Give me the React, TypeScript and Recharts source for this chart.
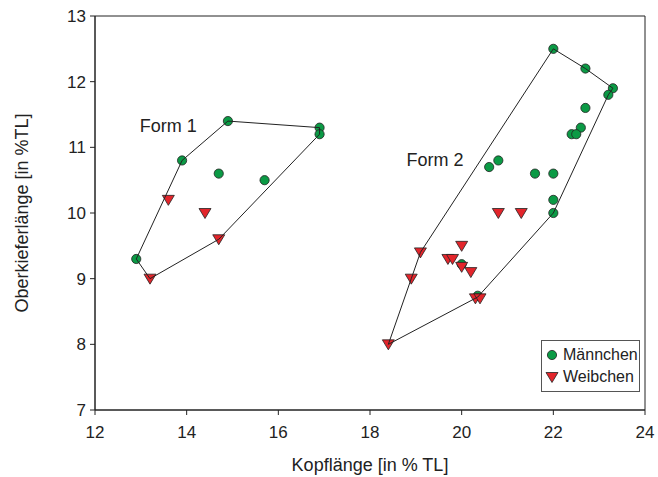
import {
  ScatterChart,
  Scatter,
  XAxis,
  YAxis,
  ReferenceArea,
  ReferenceDot,
} from 'recharts'

// Männchen (circles)
const maleKopf = [12.9, 13.9, 14.9, 16.9, 16.9, 14.7, 15.7, 22.0, 22.7, 23.3, 23.2, 22.7, 22.6, 22.4, 22.5, 20.8, 20.6, 21.6, 22.0, 22.0, 22.0, 20.0, 20.35]
const maleOber = [9.3, 10.8, 11.4, 11.3, 11.2, 10.6, 10.5, 12.5, 12.2, 11.9, 11.8, 11.6, 11.3, 11.2, 11.2, 10.8, 10.7, 10.6, 10.6, 10.2, 10.0, 9.22, 8.74]

// Weibchen (triangles)
const femaleKopf = [13.6, 14.4, 14.7, 13.2, 20.8, 21.3, 19.1, 18.9, 18.4, 20.3, 20.4, 20.0, 19.7, 19.8, 20.0, 20.2]
const femaleOber = [10.2, 10.0, 9.6, 9.0, 10.0, 10.0, 9.4, 9.0, 8.0, 8.7, 8.7, 9.5, 9.3, 9.3, 9.18, 9.1]

// hull outlines
const hull1Kopf = [12.9, 13.2, 14.7, 16.9, 16.9, 14.9, 13.9, 12.9]
const hull1Ober = [9.3, 9.0, 9.6, 11.2, 11.3, 11.4, 10.8, 9.3]
const hull2Kopf = [18.4, 18.9, 19.1, 22.0, 22.7, 23.3, 23.2, 22.0, 20.35, 18.4]
const hull2Ober = [8.0, 9.0, 9.4, 12.5, 12.2, 11.9, 11.8, 10.0, 8.72, 8.0]

const xTicks = [12, 14, 16, 18, 20, 22, 24]
const yTicks = [7, 8, 9, 10, 11, 12, 13]

const zip = (xs: number[], ys: number[]) => xs.map((x, i) => ({ x, y: ys[i] }))

const males = zip(maleKopf, maleOber)
const females = zip(femaleKopf, femaleOber)
const hull1 = zip(hull1Kopf, hull1Ober)
const hull2 = zip(hull2Kopf, hull2Ober)

const GREEN = '#0b9a45'
const RED = '#e3252b'
const INK = '#222'
const FONT = "'Liberation Sans', Arial, sans-serif"

const Circle = (p: any) => (
  <circle cx={p.cx} cy={p.cy} r={4.6} fill={GREEN} stroke={INK} strokeWidth={0.8} />
)

const Tri = (p: any) => (
  <path
    d={`M${p.cx - 6},${p.cy - 4.5} L${p.cx + 6},${p.cy - 4.5} L${p.cx},${p.cy + 5.5} Z`}
    fill={RED}
    stroke={INK}
    strokeWidth={0.8}
  />
)

const Nothing = () => <g />

function LegendBox() {
  return (
    <div
      style={{
        position: 'absolute',
        left: 541,
        top: 340,
        width: 99,
        boxSizing: 'border-box',
        border: '1px solid #555',
        background: '#fff',
        padding: '3px 0 3px 3px',
        fontFamily: FONT,
        fontSize: 16,
        color: INK,
        lineHeight: '22px',
      }}
    >
      <div style={{ display: 'flex', alignItems: 'center' }}>
        <svg width={14} height={14} style={{ marginRight: 4 }}>
          <circle cx={7} cy={7} r={4.6} fill={GREEN} stroke={INK} strokeWidth={0.8} />
        </svg>
        Männchen
      </div>
      <div style={{ display: 'flex', alignItems: 'center' }}>
        <svg width={14} height={14} style={{ marginRight: 4 }}>
          <path d="M1,2.5 L13,2.5 L7,12.5 Z" fill={RED} stroke={INK} strokeWidth={0.8} />
        </svg>
        Weibchen
      </div>
    </div>
  )
}

const tickStyle = { fill: INK, fontSize: 17, fontFamily: FONT }

export default function App() {
  return (
    <div style={{ position: 'absolute', left: 0, top: 0, width: 658, height: 477, background: '#fff' }}>
      <ScatterChart
        width={658}
        height={477}
        margin={{ top: 16, right: 13, bottom: 0, left: 0 }}
        style={{ fontFamily: FONT }}
      >
        <XAxis
          type="number"
          dataKey="x"
          domain={[12, 24]}
          ticks={xTicks}
          tick={tickStyle}
          tickSize={5}
          tickMargin={11}
          stroke={INK}
          height={67}
          allowDataOverflow
          label={{ value: 'Kopflänge [in % TL]', position: 'insideBottom', offset: 6, fill: INK, fontSize: 18, fontFamily: FONT }}
        />
        <YAxis
          type="number"
          dataKey="y"
          domain={[7, 13]}
          ticks={yTicks}
          tick={tickStyle}
          tickSize={5}
          tickMargin={4}
          stroke={INK}
          width={95}
          allowDataOverflow
          label={{ value: 'Oberkieferlänge [in %TL]', angle: -90, position: 'insideLeft', offset: 22, fill: INK, fontSize: 18, fontFamily: FONT, style: { textAnchor: 'middle' } }}
        />
        <ReferenceArea x1={12} x2={24} y1={7} y2={13} fill="none" stroke={INK} strokeWidth={1} ifOverflow="visible" />
        <Scatter name="Männchen" data={males} shape={Circle} isAnimationActive={false} />
        <Scatter name="Weibchen" data={females} shape={Tri} isAnimationActive={false} />
        <Scatter data={hull1} shape={Nothing} line={{ stroke: INK, strokeWidth: 1 }} lineType="joint" isAnimationActive={false} />
        <Scatter data={hull2} shape={Nothing} line={{ stroke: INK, strokeWidth: 1 }} lineType="joint" isAnimationActive={false} />
        <ReferenceDot x={13.6} y={11.33} r={0} label={{ value: 'Form 1', fill: INK, fontSize: 18, fontFamily: FONT, position: 'center' }} />
        <ReferenceDot x={19.42} y={10.81} r={0} label={{ value: 'Form 2', fill: INK, fontSize: 18, fontFamily: FONT, position: 'center' }} />
      </ScatterChart>
      <LegendBox />
    </div>
  )
}
